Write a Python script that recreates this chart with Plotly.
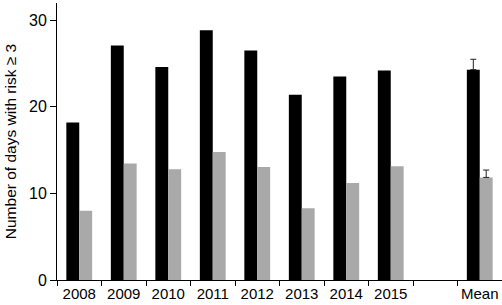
import plotly.graph_objects as go

categories = ["2008", "2009", "2010", "2011", "2012", "2013", "2014", "2015", " ", "Mean"]
years = ["2008", "2009", "2010", "2011", "2012", "2013", "2014", "2015"]
black_values = [18.2, 27.1, 24.6, 28.85, 26.5, 21.4, 23.5, 24.2]
gray_values = [8.0, 13.45, 12.8, 14.8, 13.05, 8.3, 11.2, 13.15]
mean_label = ["Mean"]
black_mean = [24.3]
gray_mean = [11.85]
black_mean_err = [1.2]
gray_mean_err = [0.85]
y_ticks = [0, 10, 20, 30]

font_family = "Liberation Sans, Arial, sans-serif"
black = "#000000"
gray = "#a9a9a9"

fig = go.Figure()
fig.add_trace(go.Bar(x=years, y=black_values, marker_color=black, marker_line_width=0,
                     offsetgroup="a", showlegend=False))
fig.add_trace(go.Bar(x=mean_label, y=black_mean, marker_color=black, marker_line_width=0,
                     offsetgroup="a", showlegend=False,
                     error_y=dict(type="data", array=black_mean_err, arrayminus=[0],
                                  symmetric=False, color="#222222", thickness=1, width=3)))
fig.add_trace(go.Bar(x=years, y=gray_values, marker_color=gray, marker_line_width=0,
                     offsetgroup="b", showlegend=False))
fig.add_trace(go.Bar(x=mean_label, y=gray_mean, marker_color=gray, marker_line_width=0,
                     offsetgroup="b", showlegend=False,
                     error_y=dict(type="data", array=gray_mean_err, arrayminus=[0],
                                  symmetric=False, color="#222222", thickness=1, width=3)))

fig.update_layout(
    width=502, height=305,
    margin=dict(l=57, r=0, t=3, b=25),
    barmode="group", bargap=0.42, bargroupgap=0,
    plot_bgcolor="white", paper_bgcolor="white",
    font=dict(family=font_family, size=15, color="#000000"),
    xaxis=dict(
        type="category", categoryorder="array", categoryarray=categories,
        range=[-0.5, 9.5], showline=True, linecolor="#000000", linewidth=1,
        ticks="outside", tickson="boundaries", ticklen=5, tickcolor="#000000",
        showgrid=False, zeroline=False, tickfont=dict(size=15), tickangle=0,
        automargin=False,
    ),
    yaxis=dict(
        range=[0, 32], tickvals=y_ticks, showline=True, linecolor="#000000", linewidth=1,
        ticks="outside", ticklen=6, tickcolor="#000000", showgrid=False, zeroline=False,
        tickfont=dict(size=16), automargin=False,
        title=dict(text="Number of days with risk ≥ 3", font=dict(size=15.5), standoff=8),
    ),
)

fig.write_html("out.html")
